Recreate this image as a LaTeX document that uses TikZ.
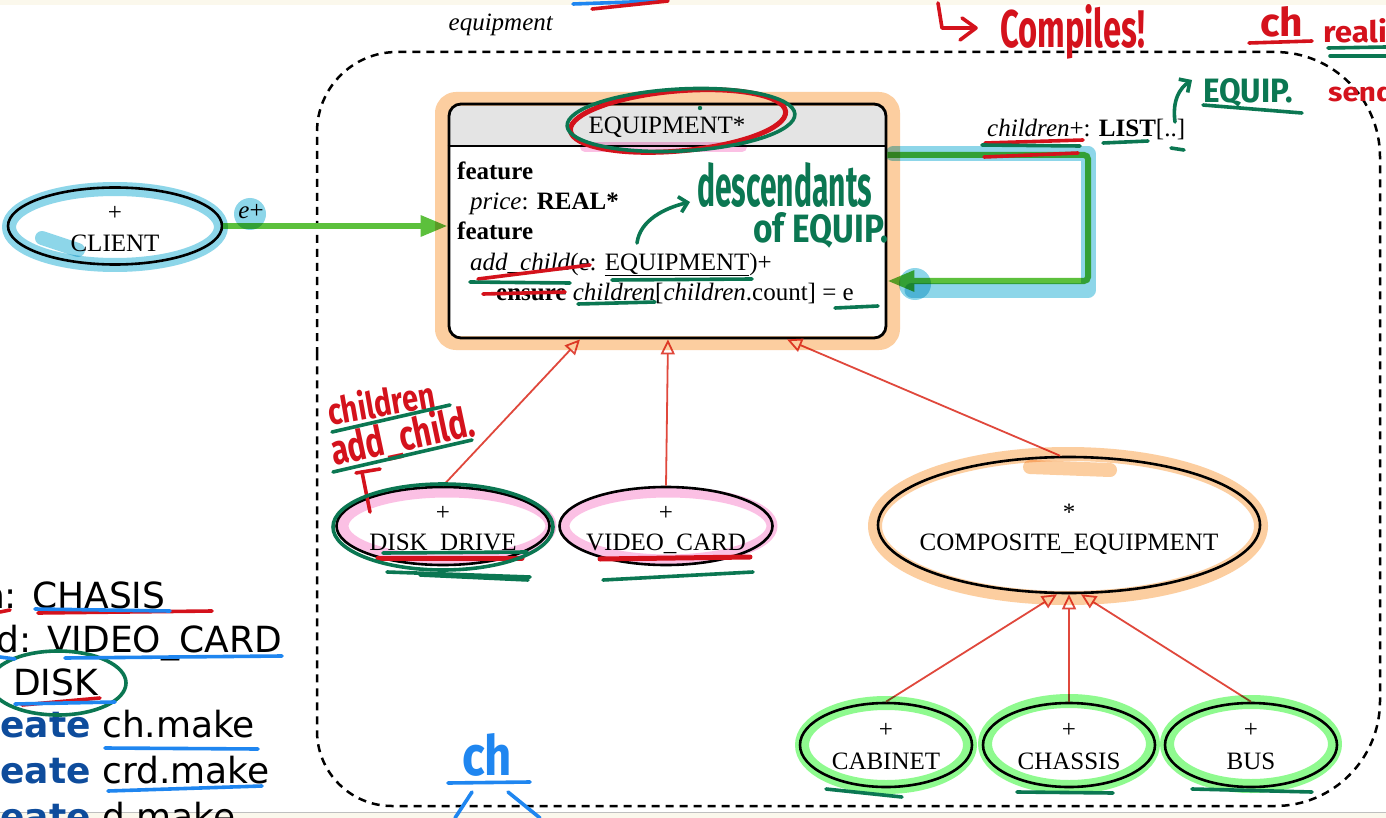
\documentclass[tikz,border=0pt]{standalone}
\usepackage{fontspec}
\usepackage{graphicx}
\setmainfont{Liberation Serif}
\newfontfamily\codefont{DejaVu Sans}
\newfontfamily\handfont{Fira Sans}
\usetikzlibrary{arrows.meta,shapes.geometric}

\definecolor{inkred}{HTML}{D4121C}
\definecolor{inkgreen}{HTML}{0B7752}
\definecolor{inkblue}{HTML}{1F86F0}
\definecolor{hlblue}{HTML}{7ACFE6}
\definecolor{hlorange}{HTML}{FCC690}
\definecolor{hlpink}{HTML}{FBB6E0}
\definecolor{hlgreen}{HTML}{7CFA7C}
\definecolor{inherit}{HTML}{E0483C}
\definecolor{callgreen}{HTML}{5CC03C}
\definecolor{headgray}{HTML}{E4E4E4}
\definecolor{codeblue}{HTML}{0E4C9C}
\definecolor{paper}{HTML}{FBF8EC}

% hand-written words, stretched to a given width and height
\newcommand\scrawl[3]{\resizebox{#1}{#2}{\handfont\bfseries #3}}

\begin{document}
\begin{tikzpicture}[x=1pt,y=-1pt,
  txt/.style={font=\fontsize{25}{30}\selectfont, inner sep=0pt},
  cls/.style={draw=black, line width=2.6pt, ellipse, inner sep=0pt},
  inh/.style={draw=inherit, line width=1.8pt,
    -{Triangle[open, fill=white, length=15pt, width=14pt]}},
  call/.style={draw=callgreen, line width=6pt,
    -{Triangle[length=27pt, width=20pt]}},
  frame/.style={draw=black, line width=2.5pt, dash pattern=on 8pt off 6pt},
  hl/.style={line width=14pt, line cap=round, line join=round, opacity=0.85,
    blend mode=multiply},
  pen/.style={line width=3.6pt, line cap=round, line join=round},
  hand/.style={inner sep=0pt},
  code/.style={font=\codefont\fontsize{36}{44}\selectfont, inner sep=0pt,
    anchor=base west},
]
\useasboundingbox (0,0) rectangle (1386,818);
\clip (0,0) rectangle (1386,818);

% paper
\fill[white] (0,0) rectangle (1386,818);
\fill[paper] (0,0) rectangle (1386,5);
\fill[paper] (0,812) rectangle (1386,818);
\draw[black!25, line width=0.8pt] (0,812) -- (1386,812);

% ---------- cluster frame ----------
\draw[frame] (317,430) [rounded corners=80pt] -- (317,52)
  [rounded corners=105pt] -- (1380,52) -- (1380,806)
  [rounded corners=75pt] -- (317,806) -- cycle;
\node[txt, anchor=base] (pkgname) at (501,31) {\textit{equipment}};

% ---------- EQUIPMENT class box ----------
\fill[headgray] (449,146) [rounded corners=11pt] -- (449,104) -- (886,104)
  [sharp corners] -- (886,146) -- cycle;
\node[draw=black, line width=2.8pt, rounded corners=12pt, inner sep=0pt,
  minimum width=437pt, minimum height=234pt] (equip) at (667.5,221) {};
\coordinate (sep) at (0,146);
\draw[line width=2.2pt] (equip.west |- sep) -- (equip.east |- sep);
\node[txt, anchor=base] (equiptitle) at (667,134) {EQUIPMENT*};
\node[txt, anchor=base west] (f1) at (457,180) {\textbf{feature}};
\node[txt, anchor=base west] (f2) at (470,210) {\textit{price}: \textbf{REAL*}};
\node[txt, anchor=base west] (f3) at (457,240) {\textbf{feature}};
\node[txt, anchor=base west] (f4) at (470,270)
  {\textit{add\_child}(e: \underline{EQUIPMENT})+};
\node[txt, anchor=base west] (f5) at (496,300)
  {\textbf{ensure} \textit{children}[\textit{children}.count] = e};

% ---------- other classes ----------
\node[cls, minimum width=214pt, minimum height=77pt] (client) at (115,226) {};
\node[txt] (clientplus) at (115,213) {+};
\node[txt, anchor=base] (clientname) at (115,252) {CLIENT};

\node[cls, minimum width=213pt, minimum height=78pt] (disk) at (443,526) {};
\node[txt] (diskplus) at (443,513) {+};
\node[txt, anchor=base] (diskname) at (443,550) {DISK\_DRIVE};

\node[cls, minimum width=213pt, minimum height=78pt] (video) at (666,526) {};
\node[txt] (videoplus) at (666,513) {+};
\node[txt, anchor=base] (videoname) at (666,550) {VIDEO\_CARD};

\node[cls, minimum width=382pt, minimum height=136pt] (comp) at (1069,525) {};
\node[txt] (compstar) at (1069,512) {*};
\node[txt, anchor=base] (compname) at (1069,550) {COMPOSITE\_EQUIPMENT};

\node[cls, minimum width=172pt, minimum height=84pt] (cab) at (886,745) {};
\node[txt] (cabplus) at (886,730) {+};
\node[txt, anchor=base] (cabname) at (886,769) {CABINET};

\node[cls, minimum width=172pt, minimum height=84pt] (chassis) at (1069,745) {};
\node[txt] (chassisplus) at (1069,730) {+};
\node[txt, anchor=base] (chassisname) at (1069,769) {CHASSIS};

\node[cls, minimum width=172pt, minimum height=84pt] (bus) at (1251,745) {};
\node[txt] (busplus) at (1251,730) {+};
\node[txt, anchor=base] (busname) at (1251,769) {BUS};

% ---------- client relations ----------
\draw[call] (client.east) -- (equip.west |- client.east);
\node[txt] (cliente) at (251,212) {\textit{e}+};
\draw[call, rounded corners=4pt] (equip.east |- 0,155) -- (1088,155) -- (1088,281)
  -- (equip.east |- 0,281);
\node[txt, anchor=base west] (childrenlbl) at (987,137)
  {\textit{children}+: \textbf{LIST}[..]};

% ---------- inheritance ----------
\draw[inh] (disk.north) -- (equip.south -| 580,0);
\draw[inh] (video.north) -- (equip.south -| 668,0);
\draw[inh] (comp.north -| 1060,0) -- (equip.south -| 787,0);
\draw[inh] (cab.north) -- (comp.south -| 1057,0);
\draw[inh] (bus.north) -- (comp.south -| 1081,0);
\draw[inh] (chassis.north) -- (comp.south);

% ---------- code listing at the lower left ----------
\node[code] (l1) at (32,608) {\llap{ch: }CHASIS};
\node[code] (l2) at (47,652) {\llap{crd: }VIDEO\_CARD};
\node[code] (l3) at (13,695) {\llap{d: }DISK};
\node[code] (l4) at (102,737) {\llap{\textcolor{codeblue}{\bfseries create} }ch.make};
\node[code] (l5) at (102,783) {\llap{\textcolor{codeblue}{\bfseries create} }crd.make};
\node[code] (l6) at (102,829) {\llap{\textcolor{codeblue}{\bfseries create} }d.make};

% ---------- highlighter ----------
\draw[hl, hlorange, rounded corners=14pt] (442,99) rectangle (893,343);
\draw[hl, hlorange] (1068,526) ellipse [x radius=193, y radius=72];
\draw[hl, hlorange] (1030,467) -- (1110,470);
\draw[hl, hlblue] (115,227) ellipse [x radius=106, y radius=38];
\draw[hl, hlblue] (42,238) -- (78,250);
\fill[hlblue, opacity=0.85, blend mode=multiply] (250,214) circle (16);
\draw[hl, hlblue, line width=15pt] (893,154) -- (1088,154) -- (1088,290) -- (912,290);
\fill[hlblue, opacity=0.85, blend mode=multiply] (915,284) circle (16);
\draw[hl, hlpink, line width=10pt] (585,147) -- (742,147);
\draw[hl, hlpink, line width=11pt] (447,526) ellipse [x radius=104, y radius=34];
\draw[hl, hlpink, line width=11pt] (668,526) ellipse [x radius=104, y radius=34];
\draw[hl, hlgreen] (886,745) ellipse [x radius=84, y radius=42];
\draw[hl, hlgreen] (1069,744) ellipse [x radius=84, y radius=43];
\draw[hl, hlgreen] (1251,744) ellipse [x radius=84, y radius=42];

% ---------- pen: red ----------
\draw[pen, inkred, line width=5pt, rotate around={5:(678,121)}]
  (678,121) ellipse [x radius=108, y radius=30];
\draw[pen, inkred] (478,279) -- (590,265);
\draw[pen, inkred] (483,294) -- (565,292);
\draw[pen, inkred] (985,143) -- (1083,140);
\draw[pen, inkred] (984,157) -- (1078,153);
\draw[pen, inkred, line width=5pt] (378,558) -- (522,558);
\draw[pen, inkred, line width=5pt] (600,559) -- (750,557);
\draw[pen, inkred] (0,612) -- (10,610);
\draw[pen, inkred] (38,613) -- (212,611);
\draw[pen, inkred] (22,705) -- (100,698);
% compiles
\draw[pen, inkred] (938,3) -- (942,28) -- (975,28);
\draw[pen, inkred] (962,18) -- (976,28) -- (960,40);
\node[hand, anchor=base west, text=inkred] (compiles) at (1000,48)
  {\scrawl{145pt}{43pt}{Compiles!}};
\node[hand, anchor=base west, text=inkred] (chword) at (1260,37)
  {\scrawl{43pt}{30pt}{ch}};
\draw[pen, inkred] (1249,43) -- (1312,41);
\node[hand, anchor=base west, text=inkred] (realword) at (1323,43)
  {\scrawl{95pt}{24pt}{realize}};
\node[hand, anchor=base west, text=inkred] (sendword) at (1328,102)
  {\scrawl{80pt}{20pt}{sends}};
\node[hand, anchor=base west, text=inkred, rotate=10] (kidsword) at (330,426)
  {\scrawl{108pt}{30pt}{children}};
\node[hand, anchor=base west, text=inkred, rotate=12] (addword) at (334,466)
  {\scrawl{146pt}{34pt}{add\_child.}};
\draw[pen, inkred] (370,512) -- (362,472);
\draw[pen, inkred] (356,473) -- (380,469);

% ---------- pen: green ----------
\draw[pen, inkgreen, rotate around={3:(681,120)}]
  (681,120) ellipse [x radius=114, y radius=31];
\fill[inkgreen] (700,108) circle (2.2);
\draw[pen, inkgreen] (470,282) -- (570,283);
\draw[pen, inkgreen] (612,280) -- (752,279);
\draw[pen, inkgreen] (578,304) -- (655,302);
\draw[pen, inkgreen] (835,308) -- (878,306);
\draw[pen, inkgreen] (982,145) -- (1080,146);
\draw[pen, inkgreen] (1103,143) -- (1148,141);
\draw[pen, inkgreen] (1171,148) -- (1184,150);
\draw[pen, inkgreen, -{Straight Barb[length=8pt]}] (637,243) .. controls (640,220) and (665,208) .. (690,202);
\node[hand, anchor=base west, text=inkgreen] (descword) at (697,207)
  {\scrawl{175pt}{44pt}{descendants}};
\node[hand, anchor=base west, text=inkgreen] (ofword) at (753,243)
  {\scrawl{135pt}{30pt}{of EQUIP.}};
\draw[pen, inkgreen, -{Straight Barb[length=8pt]}] (1175,122) .. controls (1172,100) and (1180,88) .. (1192,80);
\node[hand, anchor=base west, text=inkgreen] (equipword) at (1203,103)
  {\scrawl{90pt}{24pt}{EQUIP.}};
\draw[pen, inkgreen] (1203,105) -- (1302,113);
\draw[pen, inkgreen] (1328,48) -- (1386,47);
\draw[pen, inkgreen] (1330,56) -- (1386,56);
\draw[pen, inkgreen] (332,432) -- (450,405);
\draw[pen, inkgreen] (333,472) -- (472,440);
\draw[pen, inkgreen] (443,527) ellipse [x radius=110, y radius=43];
\draw[pen, inkgreen] (383,553) -- (527,552);
\draw[pen, inkgreen] (387,572) -- (530,577) -- (420,575) -- (528,580);
\draw[pen, inkgreen] (603,580) -- (753,572);
\draw[pen, inkgreen] (826,789) -- (902,797);
\draw[pen, inkgreen] (1017,792) -- (1113,793);
\draw[pen, inkgreen] (1192,789) -- (1312,792);
\draw[pen, inkgreen] (58,683) ellipse [x radius=68, y radius=32];

% ---------- pen: blue ----------
\draw[pen, inkblue] (573,4) -- (660,1);
\draw[pen, inkred] (592,9) -- (668,1);
\draw[pen, inkblue] (35,609) -- (170,611);
\draw[pen, inkblue] (0,657) -- (15,659);
\draw[pen, inkblue] (65,658) -- (282,656);
\draw[pen, inkblue] (15,704) -- (115,702);
\draw[pen, inkblue] (105,748) -- (258,749);
\draw[pen, inkblue] (108,791) -- (262,786);
\node[hand, anchor=base west, text=inkblue] (chtree) at (462,775)
  {\scrawl{50pt}{42pt}{ch}};
\draw[pen, inkblue] (448,783) -- (530,782);
\draw[pen, inkblue] (472,792) -- (455,818);
\draw[pen, inkblue] (508,792) -- (540,818);
\end{tikzpicture}
\end{document}
